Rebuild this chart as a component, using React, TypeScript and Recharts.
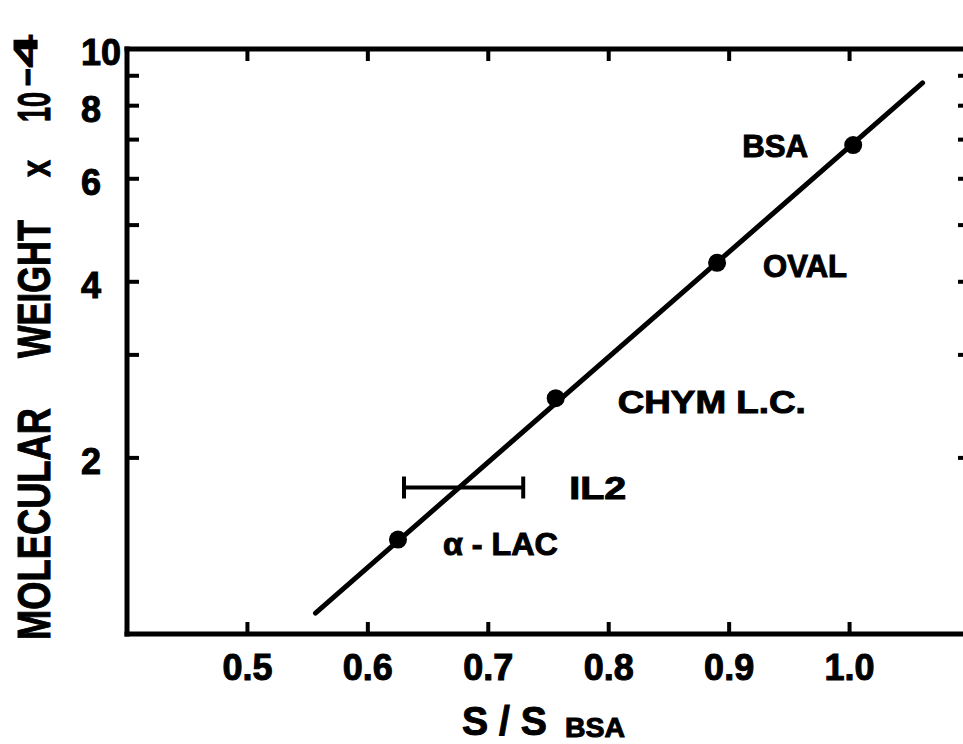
import { ErrorBar, Scatter, ScatterChart, XAxis, YAxis } from 'recharts';

// calibration proteins
const proteins = ['BSA', 'OVAL', 'CHYM  L.C.', 'α - LAC'];
const sRatio = [1.003, 0.89, 0.756, 0.625];
const molWeight = [6.85, 4.31, 2.53, 1.45];

// IL2 band, given as a range on S/S_BSA
const il2Name = 'IL2';
const il2Ratio = 0.68;
const il2Range = [0.63, 0.729];
const il2Weight = 1.78;

// fitted line end points
const fitRatio = [0.5565, 1.0606];
const fitWeight = [1.086, 8.75];

const xTicks = [0.5, 0.6, 0.7, 0.8, 0.9, 1.0];
const xTickLabels = ['0.5', '0.6', '0.7', '0.8', '0.9', '1.0'];
const yTicks = [2, 3, 4, 5, 6, 7, 8, 9, 10];
const yTickLabels: Record<number, string> = { 2: '2', 4: '4', 6: '6', 8: '8', 10: '10' };

const FONT = '"Liberation Sans", Arial, Helvetica, sans-serif';
const INK = '#000';
// the scanned lettering is heavier than a plain bold face
const heavy = { fontFamily: FONT, fontWeight: 'bold' as const, fill: INK, stroke: INK, strokeWidth: 1 };

const labelStyle: Record<string, { dx: number; dy: number; anchor: 'start' | 'end'; len: number }> = {
  BSA: { dx: -45, dy: 12, anchor: 'end', len: 66 },
  OVAL: { dx: 46, dy: 14, anchor: 'start', len: 84 },
  'CHYM  L.C.': { dx: 62, dy: 15, anchor: 'start', len: 188 },
  'α - LAC': { dx: 45, dy: 15, anchor: 'start', len: 115 },
  IL2: { dx: 105, dy: 11, anchor: 'start', len: 57 },
};

const points = proteins.map((name, i) => ({ name, x: sRatio[i], y: molWeight[i] }));
const il2Data = [
  { name: il2Name, x: il2Ratio, y: il2Weight, err: [il2Ratio - il2Range[0], il2Range[1] - il2Ratio] },
];
const fitData = fitRatio.map((x, i) => ({ x, y: fitWeight[i] }));

function PointLabel({ cx, cy, name }: { cx: number; cy: number; name: string }) {
  const s = labelStyle[name];
  return (
    <text
      x={cx + s.dx}
      y={cy + s.dy}
      textAnchor={s.anchor}
      textLength={s.len}
      lengthAdjust="spacingAndGlyphs"
      fontSize={32}
      {...heavy}
    >
      {name}
    </text>
  );
}

function DotShape(props: any) {
  const { cx, cy, payload } = props;
  return (
    <g>
      <circle cx={cx} cy={cy} r={9} fill={INK} />
      <PointLabel cx={cx} cy={cy} name={payload.name} />
    </g>
  );
}

function Il2Shape(props: any) {
  const { cx, cy, payload } = props;
  return <PointLabel cx={cx} cy={cy} name={payload.name} />;
}

function BottomTick(props: any) {
  const { x, y, payload } = props;
  const i = xTicks.indexOf(payload.value);
  return (
    <g>
      <line x1={x} y1={y} x2={x} y2={y - 12} stroke={INK} strokeWidth={4} />
      <text x={x} y={y + 46} textAnchor="middle" fontSize={36} {...heavy}>
        {xTickLabels[i]}
      </text>
    </g>
  );
}

function TopTick(props: any) {
  const { x, y } = props;
  return <line x1={x} y1={y} x2={x} y2={y + 12} stroke={INK} strokeWidth={4} />;
}

function LeftTick(props: any) {
  const { x, y, payload } = props;
  const label = yTickLabels[payload.value];
  return (
    <g>
      {payload.value < 10 && <line x1={x} y1={y} x2={x + 12} y2={y} stroke={INK} strokeWidth={4} />}
      {label && (
        <text x={x - 46} y={y + 16} textAnchor="start" fontSize={36} {...heavy}>
          {label}
        </text>
      )}
    </g>
  );
}

function RightTick(props: any) {
  const { x, y, payload } = props;
  if (payload.value >= 10) return <g />;
  return <line x1={x} y1={y} x2={x - 12} y2={y} stroke={INK} strokeWidth={4} />;
}

function YTitle(props: any) {
  const vb = props.viewBox;
  const bx = vb.x + 50;
  const base = vb.y + vb.height;
  const part = (s: string, from: number, to: number, x: number, size: number) => (
    <text
      key={s}
      transform={`translate(${x},${base - from}) rotate(-90)`}
      textLength={to - from}
      lengthAdjust="spacingAndGlyphs"
      fontSize={size}
      {...heavy}
    >
      {s}
    </text>
  );
  return (
    <g>
      {part('MOLECULAR', -6, 226, bx, 46)}
      {part('WEIGHT', 276, 414, bx, 46)}
      {part('x', 457, 474, bx, 40)}
      {part('10', 512, 542, bx, 46)}
      {part('-4', 547, 599, bx - 13, 33)}
    </g>
  );
}

function XTitle(props: any) {
  const vb = props.viewBox;
  return (
    <g>
      <text x={vb.x + 335} y={vb.y + 101} fontSize={40} textLength={85} lengthAdjust="spacingAndGlyphs" {...heavy}>
        S / S
      </text>
      <text x={vb.x + 438} y={vb.y + 103} fontSize={27} textLength={60} lengthAdjust="spacingAndGlyphs" {...heavy}>
        BSA
      </text>
    </g>
  );
}

const axisLine = { stroke: INK, strokeWidth: 5, strokeLinecap: 'square' as const };

export default function App() {
  return (
    <div style={{ position: 'absolute', left: 0, top: 0, width: 963, height: 744, overflow: 'hidden', background: '#fff' }}>
      <ScatterChart width={980} height={744} margin={{ top: 19, right: 0, bottom: 0, left: 0 }}>
        <XAxis
          dataKey="x"
          type="number"
          domain={[0.4, 1.1]}
          ticks={xTicks}
          interval={0}
          height={110}
          tickSize={0}
          tickMargin={0}
          tickLine={false}
          axisLine={axisLine}
          tick={<BottomTick />}
          allowDataOverflow
          label={{ content: <XTitle /> }}
        />
        <XAxis
          xAxisId="top"
          orientation="top"
          dataKey="x"
          type="number"
          domain={[0.4, 1.1]}
          ticks={xTicks}
          interval={0}
          height={30}
          tickSize={0}
          tickMargin={0}
          tickLine={false}
          axisLine={axisLine}
          tick={<TopTick />}
          allowDataOverflow
        />
        <YAxis
          dataKey="y"
          type="number"
          scale="log"
          domain={[1, 10]}
          ticks={yTicks}
          interval={0}
          width={127}
          tickSize={0}
          tickMargin={0}
          tickLine={false}
          axisLine={axisLine}
          tick={<LeftTick />}
          allowDataOverflow
          label={{ content: <YTitle /> }}
        />
        <YAxis
          yAxisId="right"
          orientation="right"
          dataKey="y"
          type="number"
          scale="log"
          domain={[1, 10]}
          ticks={yTicks}
          interval={0}
          width={10}
          tickSize={0}
          tickMargin={0}
          tickLine={false}
          axisLine={axisLine}
          tick={<RightTick />}
          allowDataOverflow
        />
        <Scatter
          data={fitData}
          line={{ stroke: INK, strokeWidth: 5, strokeLinecap: 'round' }}
          shape={() => <g />}
          isAnimationActive={false}
        />
        <Scatter data={points} shape={<DotShape />} isAnimationActive={false} />
        <Scatter data={il2Data} shape={<Il2Shape />} isAnimationActive={false}>
          <ErrorBar dataKey="err" direction="x" width={11} strokeWidth={4} stroke={INK} />
        </Scatter>
      </ScatterChart>
    </div>
  );
}
